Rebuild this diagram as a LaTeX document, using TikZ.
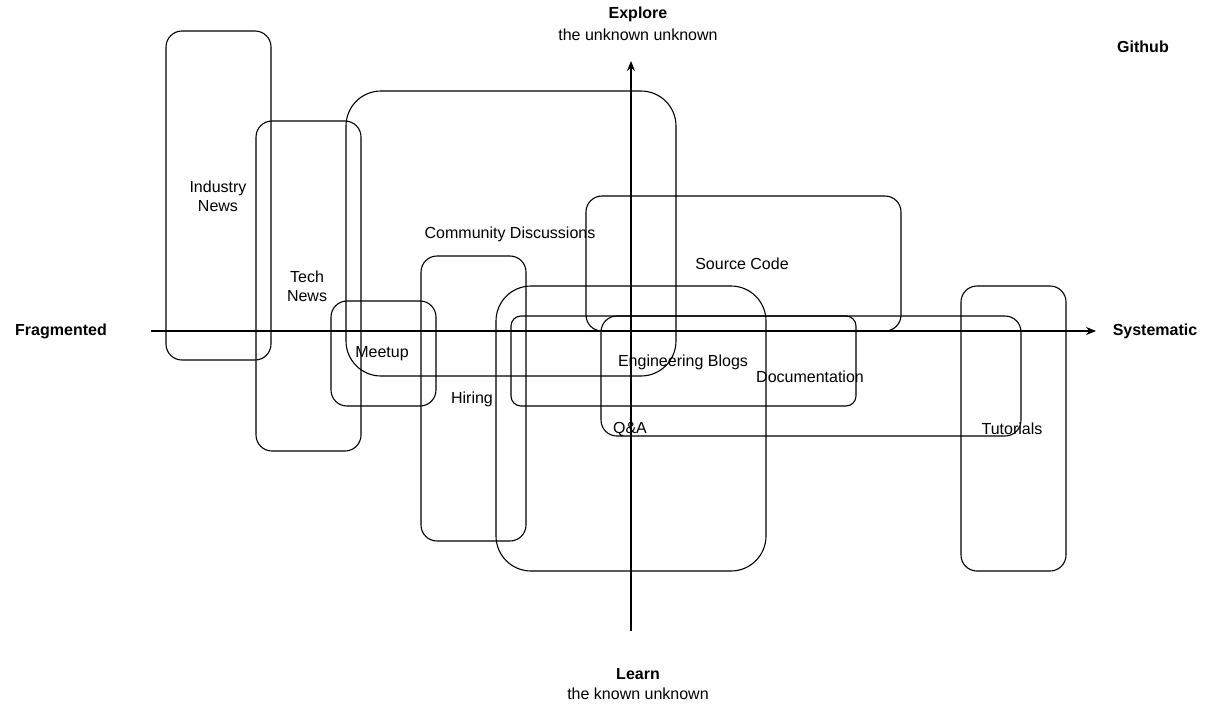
\documentclass[tikz,border=0pt]{standalone}
\usepackage{fontspec}
\setmainfont{Liberation Sans}
\usetikzlibrary{arrows.meta}
\begin{document}
\begin{tikzpicture}[x=1pt,y=-1pt,
  box/.style={draw,line width=1.1pt,rounded corners=16pt},
  lab/.style={font=\fontsize{16}{19}\selectfont,align=center,inner sep=0pt},
  blab/.style={lab,font=\fontsize{16}{19}\selectfont\bfseries},
  ax/.style={line width=1.1pt,-{Stealth[length=10pt,width=8pt]}}]
\useasboundingbox (0,0) rectangle (1217,707);
\draw[box] (166,31) rectangle (271,360);
\draw[box] (256,121) rectangle (361,451);
\draw[box,rounded corners=35pt] (346,91) rectangle (676,376);
\draw[box] (331,301) rectangle (436,406);
\draw[box] (421,256) rectangle (526,541);
\draw[box,rounded corners=35pt] (496,286) rectangle (766,571);
\draw[box] (586,196) rectangle (901,331);
\draw[box,rounded corners=10pt] (511,316) rectangle (856,406);
\draw[box] (601,316) rectangle (1021,436);
\draw[box] (961,286) rectangle (1066,571);
\coordinate (hl) at (151,331); \coordinate (hr) at (1096,331);
\coordinate (vb) at (631,631); \coordinate (vt) at (631,61);
\draw[ax] (hl) -- (hr);
\draw[ax] (vb) -- (vt);
\node[lab] (in) at (218,196) {Industry\\News};
\node[lab] (tn) at (307,286) {Tech\\News};
\node[lab] (cd) at (510,234) {Community Discussions};
\node[lab] (mu) at (382,354) {Meetup};
\node[lab] (hi) at (472,399) {Hiring};
\node[lab] (eb) at (683,362) {Engineering Blogs};
\node[lab] (sc) at (742,264) {Source Code};
\node[lab] (do) at (810,377) {Documentation};
\node[lab] (qa) at (630,429) {Q\&A};
\node[lab] (tu) at (1012,429) {Tutorials};
\node[blab] (fr) at (61,331) {Fragmented};
\node[blab] (sy) at (1155,331) {Systematic};
\node[blab] (ex) at (638,14) {Explore};
\node[lab] (exs) at (638,35) {the unknown unknown};
\node[blab] (le) at (638,674) {Learn};
\node[lab] (les) at (638,694) {the known unknown};
\node[blab] (gh) at (1143,47) {Github};
\end{tikzpicture}
\end{document}
